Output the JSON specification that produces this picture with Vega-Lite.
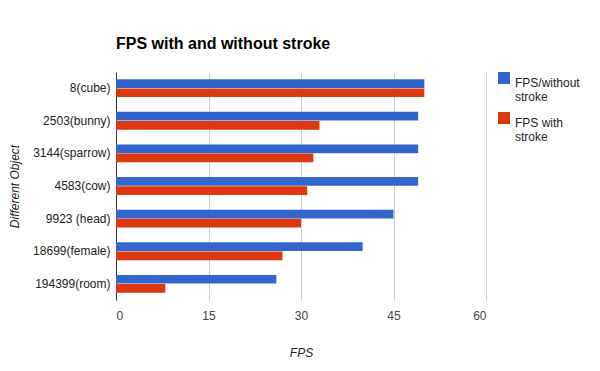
{
  "$schema": "https://vega.github.io/schema/vega-lite/v6.json",
  "width": 370,
  "height": 228,
  "autosize": "none",
  "padding": {"left": 116, "top": 72, "right": 114, "bottom": 71},
  "background": "white",
  "title": {"text": "FPS with and without stroke", "anchor": "start", "frame": "group", "font": "Liberation Sans", "fontSize": 16, "fontWeight": "bold", "color": "#000", "offset": 20, "dx": 0},
  "data": {"values": [
    {"object": "8(cube)", "series": "FPS/without stroke", "fps": 50},
    {"object": "8(cube)", "series": "FPS with stroke", "fps": 50},
    {"object": "2503(bunny)", "series": "FPS/without stroke", "fps": 49},
    {"object": "2503(bunny)", "series": "FPS with stroke", "fps": 33},
    {"object": "3144(sparrow)", "series": "FPS/without stroke", "fps": 49},
    {"object": "3144(sparrow)", "series": "FPS with stroke", "fps": 32},
    {"object": "4583(cow)", "series": "FPS/without stroke", "fps": 49},
    {"object": "4583(cow)", "series": "FPS with stroke", "fps": 31},
    {"object": "9923 (head)", "series": "FPS/without stroke", "fps": 45},
    {"object": "9923 (head)", "series": "FPS with stroke", "fps": 30},
    {"object": "18699(female)", "series": "FPS/without stroke", "fps": 40},
    {"object": "18699(female)", "series": "FPS with stroke", "fps": 27},
    {"object": "194399(room)", "series": "FPS/without stroke", "fps": 26},
    {"object": "194399(room)", "series": "FPS with stroke", "fps": 8}
  ]},
  "mark": {"type": "bar"},
  "encoding": {
    "y": {
      "field": "object", "type": "nominal", "sort": null,
      "scale": {"paddingInner": 0.45, "paddingOuter": 0.22},
      "axis": {
        "title": "Different Object", "titleFont": "Liberation Sans", "titleFontStyle": "italic", "titleFontWeight": "normal", "titleFontSize": 12, "titleColor": "#222",
        "titleX": -102, "titleAngle": -90, "titleBaseline": "middle",
        "labelFont": "Liberation Sans", "labelFontSize": 12, "labelColor": "#222", "labelPadding": 6,
        "ticks": false, "domainColor": "#333", "domainWidth": 1, "grid": false
      }
    },
    "yOffset": {"field": "series", "type": "nominal", "sort": ["FPS/without stroke", "FPS with stroke"], "scale": {"paddingInner": 0.05}},
    "x": {
      "field": "fps", "type": "quantitative",
      "scale": {"domain": [0, 60], "nice": false},
      "axis": {
        "values": [0, 15, 30, 45, 60], "title": "FPS", "titleFont": "Liberation Sans", "titleFontStyle": "italic", "titleFontWeight": "normal", "titleFontSize": 12, "titleColor": "#222",
        "titleY": 52, "titleBaseline": "middle",
        "labelFont": "Liberation Sans", "labelFontSize": 12, "labelColor": "#444", "labelPadding": 10,
        "ticks": false, "domain": false, "grid": true, "gridColor": "#cccccc", "gridWidth": 1
      }
    },
    "color": {
      "field": "series", "type": "nominal",
      "scale": {"domain": ["FPS/without stroke", "FPS with stroke"], "range": ["#3366cc", "#dc3912"]},
      "legend": {
        "title": null, "orient": "none", "legendX": 382, "legendY": 0,
        "symbolType": "square", "symbolSize": 144, "symbolStrokeWidth": 0, "symbolOpacity": 1,
        "labelFont": "Liberation Sans", "labelFontSize": 12, "labelColor": "#222", "labelLimit": 200,
        "labelExpr": "datum.label == 'FPS/without stroke' ? ['FPS/without', 'stroke'] : ['FPS with', 'stroke']",
        "labelBaseline": "top", "labelOffset": 5, "rowPadding": 9,
        "encode": {"labels": {"update": {"lineHeight": {"value": 14}}}}
      }
    }
  },
  "config": {"view": {"stroke": null}}
}
